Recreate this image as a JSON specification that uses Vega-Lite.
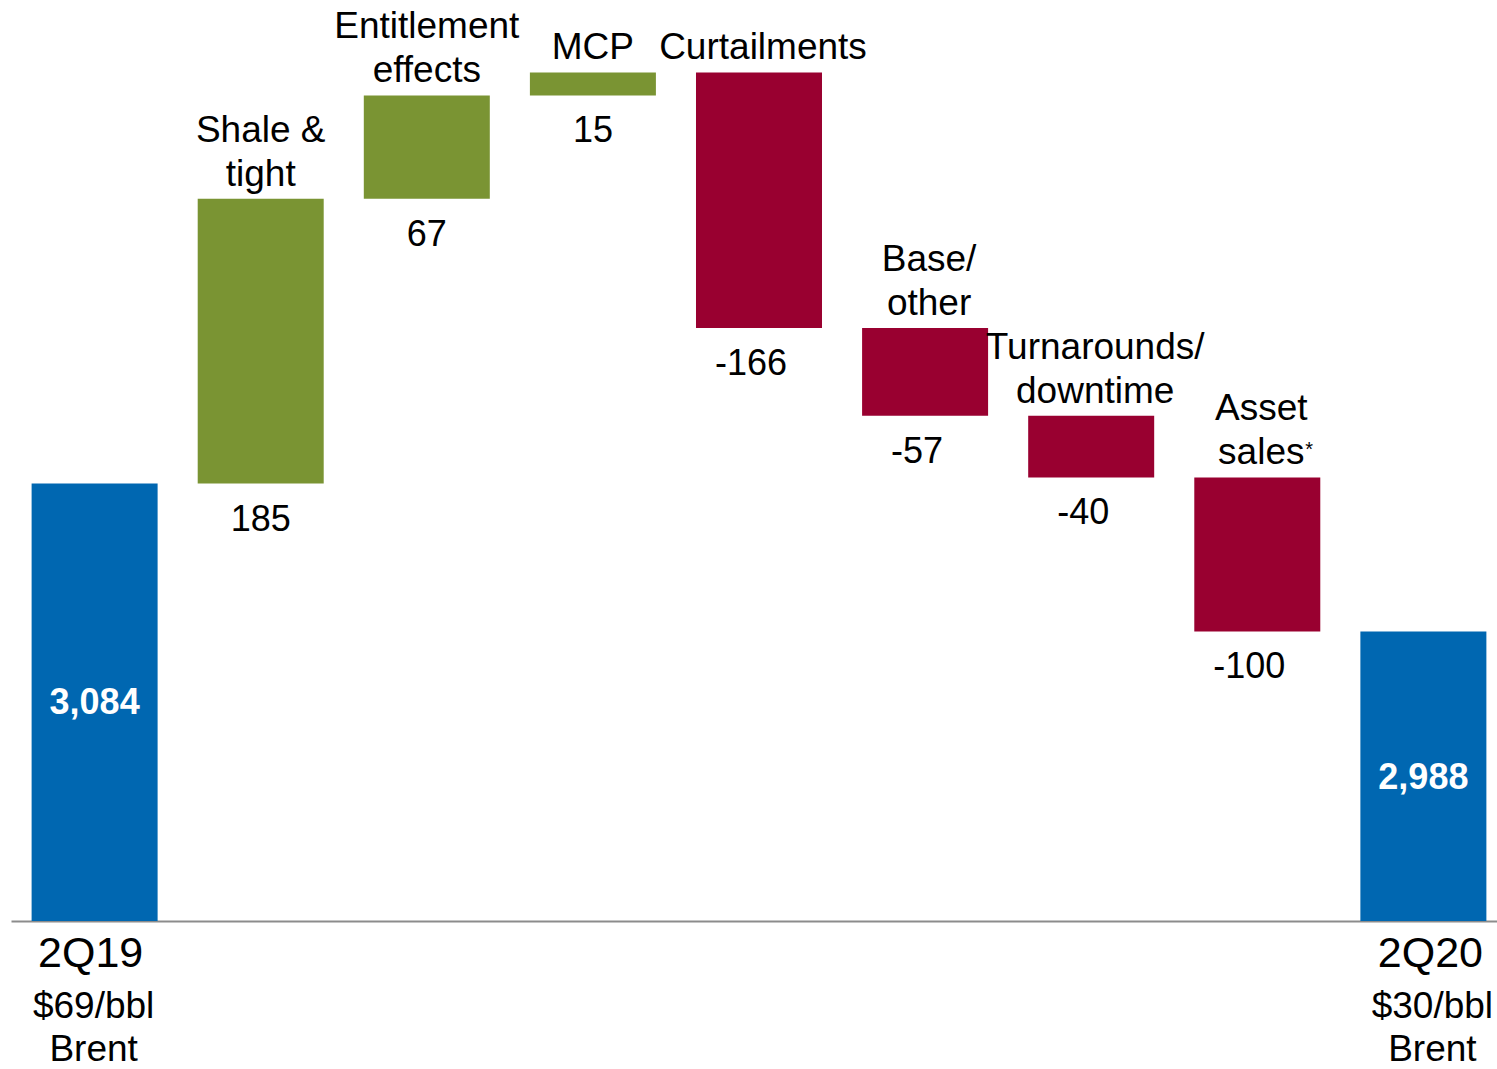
{
  "$schema": "https://vega.github.io/schema/vega-lite/v6.json",
  "width": 1486,
  "height": 921,
  "autosize": {"type": "none"},
  "padding": {"left": 11, "top": 0, "right": 0, "bottom": 148},
  "background": "white",
  "config": {"view": {"stroke": null}, "font": "Liberation Sans", "text": {"font": "Liberation Sans", "color": "black"}},
  "data": {
    "values": [
      {"cat": "2Q19", "l1": "", "l2": "2Q19", "sub": ["$69/bbl", "Brent"], "start": 0, "end": 3084, "amount": 3084, "kind": "total"},
      {"cat": "Shale & tight", "l1": "Shale &", "l2": "tight", "start": 3084, "end": 3269, "amount": 185, "kind": "up"},
      {"cat": "Entitlement effects", "l1": "Entitlement", "l2": "effects", "start": 3269, "end": 3336, "amount": 67, "kind": "up"},
      {"cat": "MCP", "l1": "", "l2": "MCP", "start": 3336, "end": 3351, "amount": 15, "kind": "up"},
      {"cat": "Curtailments", "l1": "", "l2": "Curtailments", "start": 3351, "end": 3185, "amount": -166, "kind": "down"},
      {"cat": "Base/ other", "l1": "Base/", "l2": "other", "start": 3185, "end": 3128, "amount": -57, "kind": "down"},
      {"cat": "Turnarounds/ downtime", "l1": "Turnarounds/", "l2": "downtime", "start": 3128, "end": 3088, "amount": -40, "kind": "down"},
      {"cat": "Asset sales*", "l1": "Asset", "l2": "sales", "note": "*", "start": 3088, "end": 2988, "amount": -100, "kind": "down"},
      {"cat": "2Q20", "l1": "", "l2": "2Q20", "sub": ["$30/bbl", "Brent"], "start": 0, "end": 2988, "amount": 2988, "kind": "total"}
    ]
  },
  "encoding": {
    "x": {
      "field": "cat",
      "type": "nominal",
      "sort": null,
      "scale": {"paddingInner": 0.2414, "paddingOuter": 0.094, "align": 0.66},
      "axis": {"title": null, "labels": false, "ticks": false, "domainColor": "#8c8c8c", "domainWidth": 2}
    }
  },
  "layer": [
    {
      "mark": {"type": "bar", "strokeWidth": 0},
      "encoding": {
        "y": {"field": "start", "type": "quantitative", "scale": {"domain": [2800, 3398], "clamp": true, "nice": false, "zero": false}, "axis": null},
        "y2": {"field": "end"},
        "color": {"field": "kind", "type": "nominal", "scale": {"domain": ["total", "up", "down"], "range": ["#0067B1", "#7A9433", "#990030"]}, "legend": null}
      }
    },
    {
      "transform": [{"filter": "datum.kind == 'up'"}],
      "mark": {"type": "text", "fontSize": 37, "baseline": "alphabetic", "dy": -13},
      "encoding": {"y": {"field": "end", "type": "quantitative"}, "text": {"field": "l2", "type": "nominal"}}
    },
    {
      "transform": [{"filter": "datum.kind == 'up'"}],
      "mark": {"type": "text", "fontSize": 37, "baseline": "alphabetic", "dy": -57},
      "encoding": {"y": {"field": "end", "type": "quantitative"}, "text": {"field": "l1", "type": "nominal"}}
    },
    {
      "transform": [{"filter": "datum.kind == 'down'"}],
      "mark": {"type": "text", "fontSize": 37, "baseline": "alphabetic", "dy": -13, "dx": 4},
      "encoding": {"y": {"field": "start", "type": "quantitative"}, "text": {"field": "l2", "type": "nominal"}}
    },
    {
      "transform": [{"filter": "datum.kind == 'down'"}],
      "mark": {"type": "text", "fontSize": 37, "baseline": "alphabetic", "dy": -57, "dx": 4},
      "encoding": {"y": {"field": "start", "type": "quantitative"}, "text": {"field": "l1", "type": "nominal"}}
    },
    {
      "transform": [{"filter": "isValid(datum.note)"}],
      "mark": {"type": "text", "fontSize": 20, "align": "left", "baseline": "alphabetic", "dx": 48, "dy": -21},
      "encoding": {"y": {"field": "start", "type": "quantitative"}, "text": {"field": "note", "type": "nominal"}}
    },
    {
      "transform": [{"filter": "datum.kind == 'up'"}],
      "mark": {"type": "text", "fontSize": 36, "baseline": "alphabetic", "dy": 47},
      "encoding": {"y": {"field": "start", "type": "quantitative"}, "text": {"field": "amount", "type": "nominal"}}
    },
    {
      "transform": [{"filter": "datum.kind == 'down'"}],
      "mark": {"type": "text", "fontSize": 36, "baseline": "alphabetic", "dy": 47, "dx": -8},
      "encoding": {"y": {"field": "end", "type": "quantitative"}, "text": {"field": "amount", "type": "nominal"}}
    },
    {
      "transform": [{"filter": "datum.cat == '2Q19'"}],
      "mark": {"type": "text", "fontSize": 43, "baseline": "alphabetic", "dy": 46, "dx": -4},
      "encoding": {"y": {"field": "start", "type": "quantitative"}, "text": {"field": "cat", "type": "nominal"}}
    },
    {
      "transform": [{"filter": "datum.cat == '2Q19'"}],
      "mark": {"type": "text", "fontSize": 37, "lineHeight": 43, "baseline": "alphabetic", "dy": 97, "dx": -1},
      "encoding": {"y": {"field": "start", "type": "quantitative"}, "text": {"field": "sub", "type": "nominal"}}
    },
    {
      "transform": [{"filter": "datum.cat == '2Q20'"}],
      "mark": {"type": "text", "fontSize": 43, "baseline": "alphabetic", "dy": 46, "dx": 7},
      "encoding": {"y": {"field": "start", "type": "quantitative"}, "text": {"field": "cat", "type": "nominal"}}
    },
    {
      "transform": [{"filter": "datum.cat == '2Q20'"}],
      "mark": {"type": "text", "fontSize": 37, "lineHeight": 43, "baseline": "alphabetic", "dy": 97, "dx": 9},
      "encoding": {"y": {"field": "start", "type": "quantitative"}, "text": {"field": "sub", "type": "nominal"}}
    },
    {
      "transform": [{"filter": "datum.cat == '2Q19'"}],
      "mark": {"type": "text", "fontSize": 36, "fontWeight": "bold", "color": "white", "baseline": "alphabetic", "dy": 230},
      "encoding": {"y": {"field": "end", "type": "quantitative"}, "text": {"field": "amount", "type": "quantitative", "format": ","}}
    },
    {
      "transform": [{"filter": "datum.cat == '2Q20'"}],
      "mark": {"type": "text", "fontSize": 36, "fontWeight": "bold", "color": "white", "baseline": "alphabetic", "dy": 158},
      "encoding": {"y": {"field": "end", "type": "quantitative"}, "text": {"field": "amount", "type": "quantitative", "format": ","}}
    }
  ]
}
